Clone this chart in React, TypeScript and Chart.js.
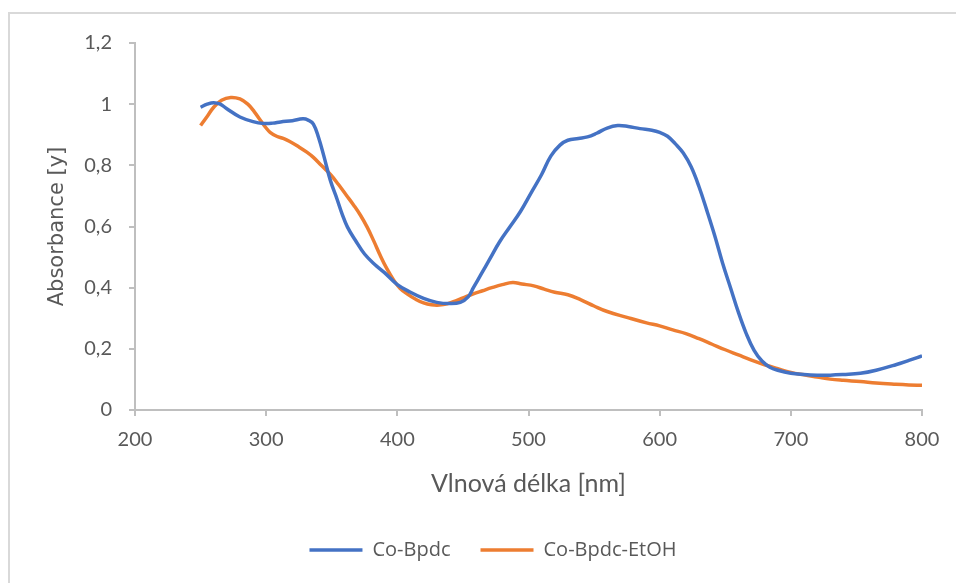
import React, { useEffect, useRef } from "react";
import { Chart, registerables } from "chart.js";

Chart.register(...registerables);

// Co-Bpdc (blue)
const blueWavelengths = [250, 255, 260, 265, 270, 280, 290, 298, 305, 311, 320, 328, 332, 336, 340, 344, 349, 354, 358, 362, 368, 375, 383, 390, 400, 410, 420, 430, 440, 448, 454, 458, 464, 470, 478, 486, 494, 502, 510, 517, 524, 530, 538, 545, 552, 560, 568, 576, 585, 594, 600, 606, 612, 618, 624, 630, 636, 642, 648, 654, 660, 666, 672, 678, 684, 690, 700, 710, 720, 730, 740, 753, 765, 780, 790, 800];
const blueAbsorbance = [0.99, 1.0, 1.005, 1.0, 0.985, 0.958, 0.943, 0.937, 0.938, 0.942, 0.946, 0.952, 0.948, 0.935, 0.89, 0.83, 0.75, 0.69, 0.64, 0.598, 0.555, 0.51, 0.475, 0.45, 0.41, 0.385, 0.365, 0.352, 0.348, 0.352, 0.37, 0.4, 0.445, 0.49, 0.55, 0.6, 0.65, 0.71, 0.77, 0.83, 0.866, 0.882, 0.888, 0.893, 0.905, 0.922, 0.93, 0.927, 0.92, 0.915, 0.908, 0.895, 0.87, 0.84, 0.795, 0.73, 0.652, 0.57, 0.48, 0.4, 0.32, 0.25, 0.195, 0.16, 0.14, 0.13, 0.12, 0.116, 0.114, 0.114, 0.116, 0.12, 0.13, 0.148, 0.162, 0.177];

// Co-Bpdc-EtOH (orange)
const orangeWavelengths = [250, 255, 260, 266, 273, 280, 286, 291, 296, 300, 303, 308, 313, 318, 325, 331, 336, 342, 349, 355, 361, 367, 372, 377, 382, 387, 392, 397, 402, 408, 414, 420, 426, 432, 438, 445, 452, 458, 465, 472, 480, 488, 495, 504, 512, 520, 530, 540, 550, 560, 575, 590, 600, 610, 620, 630, 640, 650, 660, 670, 680, 690, 700, 710, 720, 730, 740, 753, 765, 780, 790, 800];
const orangeAbsorbance = [0.93, 0.96, 0.99, 1.013, 1.022, 1.017, 1.0, 0.975, 0.945, 0.922, 0.908, 0.895, 0.888, 0.878, 0.86, 0.843, 0.826, 0.8, 0.77, 0.738, 0.703, 0.668, 0.636, 0.598, 0.553, 0.505, 0.462, 0.426, 0.398, 0.378, 0.362, 0.35, 0.344, 0.343, 0.347, 0.358, 0.37, 0.38, 0.39, 0.4, 0.41, 0.417, 0.412, 0.406, 0.395, 0.385, 0.377, 0.36, 0.34, 0.322, 0.303, 0.285, 0.275, 0.262, 0.25, 0.233, 0.215, 0.197, 0.18, 0.163, 0.148, 0.135, 0.123, 0.115, 0.108, 0.101, 0.097, 0.093, 0.088, 0.084, 0.082, 0.081];

const seriesNames = ["Co-Bpdc", "Co-Bpdc-EtOH"];
const xTitle = "Vlnová délka [nm]";
const yTitle = "Absorbance [y]";
const xMin = 200;
const xMax = 800;
const xStep = 100;
const yMin = 0;
const yMax = 1.2;
const yStep = 0.2;

const TEXT = "#595959";
const AXIS = "#bfbfbf";

function toPoints(xs: number[], ys: number[]) {
  return xs.map((x, i) => ({ x, y: ys[i] }));
}

export default function App() {
  const ref = useRef<HTMLCanvasElement | null>(null);

  useEffect(() => {
    if (!ref.current) return;
    const chart = new Chart(ref.current, {
      type: "line",
      data: {
        datasets: [
          {
            label: seriesNames[0],
            data: toPoints(blueWavelengths, blueAbsorbance),
            borderColor: "#4472C4",
            backgroundColor: "#4472C4",
            borderWidth: 3.5,
            pointRadius: 0,
            tension: 0.4,
            fill: false,
          },
          {
            label: seriesNames[1],
            data: toPoints(orangeWavelengths, orangeAbsorbance),
            borderColor: "#ED7D31",
            backgroundColor: "#ED7D31",
            borderWidth: 3.5,
            pointRadius: 0,
            tension: 0.4,
            fill: false,
          },
        ],
      },
      options: {
        responsive: false,
        animation: false,
        events: [],
        layout: { padding: { left: 64, right: 34, top: 43, bottom: 13 } },
        plugins: {
          tooltip: { enabled: false },
          legend: {
            display: true,
            position: "bottom",
            labels: {
              usePointStyle: true,
              pointStyle: "line",
              pointStyleWidth: 53,
              padding: 30,
              color: TEXT,
              font: { family: "'Open Sans'", size: 20 },
            },
          },
        },
        scales: {
          x: {
            type: "linear",
            min: xMin,
            max: xMax,
            afterFit: (s: any) => {
              s.height = 100;
            },
            ticks: {
              stepSize: xStep,
              color: TEXT,
              padding: 12,
              font: { family: "Lato", size: 20 },
              maxRotation: 0,
            },
            grid: {
              drawOnChartArea: false,
              drawTicks: true,
              tickLength: 6,
              color: AXIS,
              lineWidth: 2,
            },
            border: { display: true, color: AXIS, width: 2 },
            title: {
              display: true,
              text: xTitle,
              color: TEXT,
              font: { family: "Lato", size: 25 },
              padding: { top: 0, bottom: 11 },
            },
          },
          y: {
            type: "linear",
            min: yMin,
            max: yMax,
            afterFit: (s: any) => {
              s.width = 71;
            },
            ticks: {
              stepSize: yStep,
              color: TEXT,
              padding: 17,
              font: { family: "Lato", size: 20 },
              callback: (v: any) => {
                const n = Math.round(Number(v) * 10) / 10;
                return String(n).replace(".", ",");
              },
            },
            grid: {
              drawOnChartArea: false,
              drawTicks: true,
              tickLength: 6,
              color: AXIS,
              lineWidth: 2,
            },
            border: { display: true, color: AXIS, width: 2 },
            title: {
              display: true,
              text: yTitle,
              color: TEXT,
              font: { family: "'DejaVu Sans'", size: 21 },
              padding: { top: -18.6, bottom: 0 },
            },
          },
        },
      },
    });
    return () => chart.destroy();
  }, []);

  return (
    <div style={{ position: "fixed", left: 0, top: 0, width: 956, height: 583, background: "#ffffff", overflow: "hidden" }}>
      <div
        style={{
          position: "absolute",
          left: 8,
          top: 12,
          width: 1100,
          height: 800,
          border: "2.5px solid #d9d9d9",
        }}
      />
      <canvas ref={ref} width={956} height={583} style={{ position: "absolute", left: 0, top: 0, display: "block" }} />
    </div>
  );
}
